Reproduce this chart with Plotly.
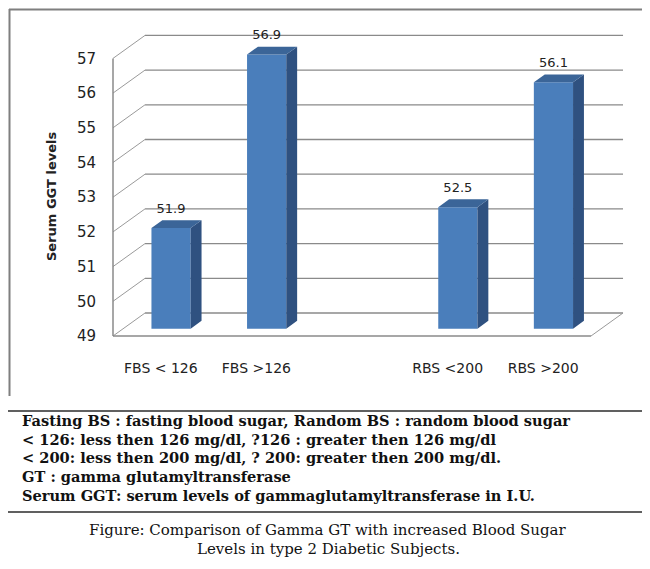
import plotly.graph_objects as go

# ---------------- data ----------------
categories = ["FBS < 126", "FBS >126", "RBS <200", "RBS >200"]
slots = [0, 1, 3, 4]            # category slot positions (slot 2 is an empty gap)
n_slots = 5
values = [51.9, 56.9, 52.5, 56.1]
y_ticks = [49, 50, 51, 52, 53, 54, 55, 56, 57]
axis_title = "Serum GGT levels"
notes = [
    "Fasting BS : fasting blood sugar, Random BS : random blood sugar",
    "< 126: less then 126 mg/dl, ?126 : greater then 126 mg/dl",
    "< 200: less then 200 mg/dl, ? 200: greater then 200 mg/dl.",
    "GT : gamma glutamyltransferase",
    "Serum GGT: serum levels of gammaglutamyltransferase in I.U.",
]
caption = [
    "Figure: Comparison of Gamma GT with increased Blood Sugar",
    "Levels in type 2 Diabetic Subjects.",
]

# ---------------- geometry ----------------
W, H = 650, 569
L, R, T, B = 100, 25, 8, 235
PW, PH = W - L - R, H - T - B
X_PX, Y_PX = 95.6, 34.7           # pixels per slot / per unit
FLOOR_PX = 328                    # pixel row of front floor edge
base_val = y_ticks[0]
xmin = -0.5 - (105 - L) / X_PX
xmax = xmin + PW / X_PX
ymin = base_val - (H - B - FLOOR_PX) / Y_PX
ymax = ymin + PH / Y_PX
DX, DY = 0.335, 0.663             # full depth of the 3-D box in data units
F0, F1 = 0.32, 0.66               # bar front / back depth fractions
BAR_W = 0.41
LABEL_GAP = 4 / Y_PX


def esc(s):
    return s.replace("&", "&amp;").replace("<", "&lt;").replace(">", "&gt;")


def px_x(px):
    return (px - L) / PW


def px_y(py):
    return (H - B - py) / PH


x_left = -0.5
x_right = -0.5 + n_slots
grid_col = "#8a8a8a"
side_col = "#9a9a9a"

shapes = []
for t in y_ticks:
    # side wall diagonal
    shapes.append(dict(type="line", xref="x", yref="y", layer="below",
                       x0=x_left, y0=t, x1=x_left + DX, y1=t + DY,
                       line=dict(color=side_col, width=1)))
    # back wall gridline
    shapes.append(dict(type="line", xref="x", yref="y", layer="below",
                       x0=x_left + DX, y0=t + DY, x1=x_right + DX, y1=t + DY,
                       line=dict(color=grid_col, width=1.3)))
# front-left vertical axis line
shapes.append(dict(type="line", xref="x", yref="y", layer="below",
                   x0=x_left, y0=y_ticks[0], x1=x_left, y1=y_ticks[-1],
                   line=dict(color=grid_col, width=1.5)))
# floor front edge and right edge
shapes.append(dict(type="line", xref="x", yref="y", layer="below",
                   x0=x_left, y0=base_val, x1=x_right, y1=base_val,
                   line=dict(color=grid_col, width=1.5)))
shapes.append(dict(type="line", xref="x", yref="y", layer="below",
                   x0=x_right, y0=base_val, x1=x_right + DX, y1=base_val + DY,
                   line=dict(color=side_col, width=1)))

# frame & separator lines (paper coordinates from pixels)
frame_col = "#7f7f7f"
shapes += [
    dict(type="line", xref="paper", yref="paper", x0=px_x(1.5), y0=px_y(1), x1=px_x(1.5), y1=px_y(388),
         line=dict(color=frame_col, width=2)),
    dict(type="line", xref="paper", yref="paper", x0=px_x(1), y0=px_y(1.5), x1=px_x(647), y1=px_y(1.5),
         line=dict(color=frame_col, width=2)),
    dict(type="line", xref="paper", yref="paper", x0=px_x(647), y0=px_y(1), x1=px_x(647), y1=px_y(388),
         line=dict(color=frame_col, width=2)),
    dict(type="line", xref="paper", yref="paper", x0=px_x(0), y0=px_y(403), x1=px_x(650), y1=px_y(403),
         line=dict(color="#606060", width=2)),
    dict(type="line", xref="paper", yref="paper", x0=px_x(0), y0=px_y(504), x1=px_x(650), y1=px_y(504),
         line=dict(color="#606060", width=2)),
]

fig = go.Figure()

# front faces of the bars
bar_x = [s + F0 * DX for s in slots]
fig.add_trace(go.Bar(
    x=bar_x, y=[v - base_val for v in values], base=base_val + F0 * DY,
    width=BAR_W, marker=dict(color="#4A7EBB", line=dict(width=0)),
    hoverinfo="skip", showlegend=False))

# side and top faces
ddx, ddy = (F1 - F0) * DX, (F1 - F0) * DY
side_x, side_y, top_x, top_y = [], [], [], []
for bx, v in zip(bar_x, values):
    xl, xr = bx - BAR_W / 2, bx + BAR_W / 2
    b0, v0 = base_val + F0 * DY, v + F0 * DY
    side_x += [xr, xr, xr + ddx, xr + ddx, xr, None]
    side_y += [b0, v0, v0 + ddy, b0 + ddy, b0, None]
    top_x += [xl, xr, xr + ddx, xl + ddx, xl, None]
    top_y += [v0, v0, v0 + ddy, v0 + ddy, v0, None]
fig.add_trace(go.Scatter(x=side_x, y=side_y, mode="lines", fill="toself",
                         fillcolor="#2F5180", line=dict(width=0, color="#2F5180"),
                         hoverinfo="skip", showlegend=False))
fig.add_trace(go.Scatter(x=top_x, y=top_y, mode="lines", fill="toself",
                         fillcolor="#3B6598", line=dict(width=0, color="#3B6598"),
                         hoverinfo="skip", showlegend=False))

# value labels
fig.add_trace(go.Scatter(
    x=bar_x, y=[v + F1 * DY + LABEL_GAP for v in values], mode="text",
    text=[f"{v:.1f}" for v in values], textposition="top center",
    textfont=dict(family="DejaVu Sans", size=13, color="#222222"),
    hoverinfo="skip", showlegend=False, cliponaxis=False))

annotations = [
    dict(text=axis_title, xref="paper", yref="paper", x=px_x(44), y=px_y(188),
         textangle=-90, showarrow=False, xanchor="center", yanchor="middle",
         font=dict(family="DejaVu Sans", size=13, color="#222222", weight="bold")),
]
note_top, note_step = 412.5, 18.7
for i, txt in enumerate(notes):
    annotations.append(dict(text=esc(txt), xref="paper", yref="paper",
                            x=px_x(13), y=px_y(note_top + i * note_step), showarrow=False,
                            xanchor="left", yanchor="middle", borderpad=0,
                            font=dict(family="DejaVu Serif", size=14.6, color="#111111",
                                      weight="bold")))
cap_y = [522, 541]
for txt, yy in zip(caption, cap_y):
    annotations.append(dict(text=esc(txt), xref="paper", yref="paper",
                            x=px_x(320), y=px_y(yy), showarrow=False,
                            xanchor="center", yanchor="middle", borderpad=0,
                            font=dict(family="DejaVu Serif", size=15, color="#111111")))

fig.update_layout(
    width=W, height=H, margin=dict(l=L, r=R, t=T, b=B, pad=0),
    paper_bgcolor="white", plot_bgcolor="white",
    shapes=shapes, annotations=annotations, showlegend=False,
    xaxis=dict(range=[xmin, xmax], tickvals=slots, ticktext=[esc(c) for c in categories],
               showgrid=False, zeroline=False, showline=False, ticks="",
               ticklabelstandoff=16,
               tickfont=dict(family="DejaVu Sans", size=14, color="#222222")),
    yaxis=dict(range=[ymin, ymax], tickvals=y_ticks, showgrid=False, zeroline=False,
               showline=False, ticks="", ticklabelstandoff=11,
               tickfont=dict(family="DejaVu Sans", size=15, color="#222222")),
)

fig.write_html("out.html")
